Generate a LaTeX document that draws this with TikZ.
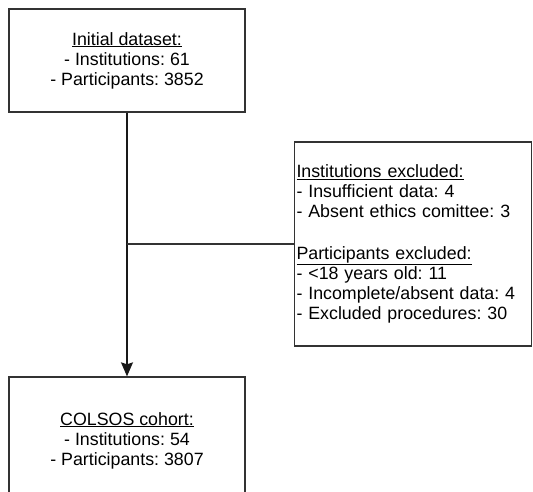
\documentclass[tikz,border=0pt]{standalone}
\usepackage{fontspec}
\setmainfont{Liberation Sans}
\frenchspacing
\usetikzlibrary{positioning, arrows.meta}

\begin{document}
\begin{tikzpicture}[
  x=1pt, y=-1pt,
  font=\fontsize{17.8}{20}\selectfont,
  box/.style={draw=black!80, line width=1.3pt, minimum width=236pt, align=center},
  excl/.style={draw=black!80, line width=1.3pt, minimum width=237pt, minimum height=204pt, text width=233pt, inner xsep=2pt, align=left},
  arr/.style={-{Stealth[length=14pt, width=12pt, inset=2pt]}, line width=1.3pt, black!90},
  link/.style={line width=1.3pt, black!80}
]
\useasboundingbox (0,0) rectangle (533,492);

% --- flow boxes ---
\node[box, minimum height=103pt] (initial) at (127,60.5)
  {\underline{Initial dataset:}\\- Institutions: 61\\- Participants: 3852};
\node[box, minimum height=127pt] (cohort) at (127,440.5)
  {\underline{COLSOS cohort:}\\- Institutions: 54\\- Participants: 3807};

% --- exclusions ---
\node[excl] (excluded) at (413,244)
  {\underline{Institutions excluded:}\\- Insufficient data: 4\\- Absent ethics comittee: 3\\[22pt]
   \underline{Participants excluded:}\\- <18 years old: 11\\- Incomplete/absent data: 4\\- Excluded procedures: 30};

\draw[arr] (initial.south) -- (cohort.north);
\draw[link] (excluded.west) -- (excluded.west -| initial.south);
\end{tikzpicture}
\end{document}
